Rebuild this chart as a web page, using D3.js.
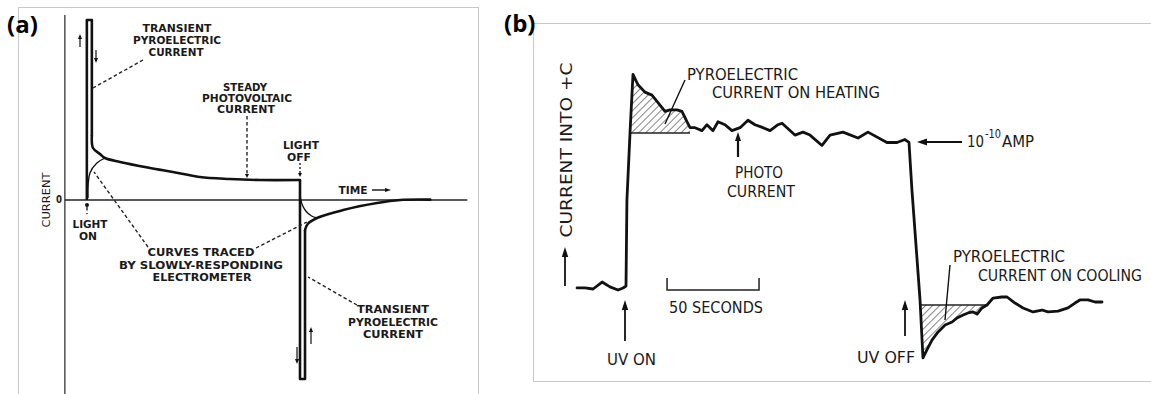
<!DOCTYPE html>
<html>
<head>
<meta charset="utf-8">
<script src="https://cdn.jsdelivr.net/npm/d3@7/dist/d3.min.js"></script>
<style>
  html, body { margin: 0; padding: 0; background: #fff; }
  svg { display: block; }
</style>
</head>
<body>
<script>
// ---- panel (a): idealised current after light on / off (arbitrary units) ----
// time in arbitrary units (light on = 0, light off = 55), current in steady-state units
const aTimeDomain = [-6, 98.4];
const aOnSpike  = [[-0.3, 0], [-0.3, 9.0], [1.0, 9.0], [1.0, 3.2]];
const aOnDecay  = [[1.0, 3.2], [1.3, 2.6], [3.1, 2.3], [4.4, 2.1], [8.3, 1.9], [16.1, 1.6],
                   [22, 1.4], [29, 1.15], [36.8, 1.05], [44.6, 1.0], [55, 1.0]];
const aOffSpike = [[55, 1.0], [55, -8.95], [56.3, -8.95], [56.3, -1.5]];
const aOffDecay = [[56.3, -1.5], [57, -1.2], [59.4, -0.9], [66.2, -0.5], [75, -0.15],
                   [81, 0], [88.8, 0.02]];
const aSlowOn   = [[0, 0.1], [0.5, 1.35], [2.3, 1.85], [4.4, 2.1]];
const aSlowOff  = [[55, 0.25], [55.5, -0.2], [56.5, -0.55], [58, -0.8], [59.4, -0.9]];

// ---- panel (b): measured trace, seconds vs current in 1e-10 A ----
const bTrace = [
  [-26.6, 0.007], [-22.3, 0.007], [-17.9, 0], [-13.0, 0.047], [-8.7, 0.014], [-4.3, -0.007],
  [-1.6, 0.007], [0, 0.02], [0.5, 0.6], [2.2, 1.06], [3.8, 1.45], [6.5, 1.38], [10.3, 1.33],
  [14.1, 1.31], [17.4, 1.26], [21.2, 1.2], [23.9, 1.21], [27.7, 1.21], [30.4, 1.2],
  [33.2, 1.13], [34.8, 1.09], [37.5, 1.09], [41.3, 1.07], [44.0, 1.11], [47.3, 1.07],
  [50.0, 1.13], [53.8, 1.11], [57.6, 1.07], [62.0, 1.09], [66.3, 1.14], [70.1, 1.11],
  [74.5, 1.09], [78.3, 1.07], [82.6, 1.11], [84.8, 1.12], [91.8, 1.04], [96.2, 1.06],
  [100.0, 1.04], [106.5, 0.97], [110.9, 1.04], [117.9, 1.06], [126.1, 1.02], [131.5, 1.06],
  [141.8, 0.99], [147.3, 0.99], [151.6, 1.01], [153.8, 0.99], [155.4, 0.67], [159.8, -0.074],
  [161.4, -0.466], [163.6, -0.41], [166.3, -0.345], [169.6, -0.29], [173.4, -0.243],
  [177.2, -0.223], [179.9, -0.196], [183.2, -0.176], [185.9, -0.162], [188.6, -0.155],
  [190.8, -0.169], [193.5, -0.128], [196.2, -0.108], [199.5, -0.061], [204.3, -0.054],
  [207.1, -0.054], [211.4, -0.095], [215.8, -0.128], [221.2, -0.155], [226.1, -0.142],
  [229.3, -0.155], [234.8, -0.149], [240.2, -0.128], [244.0, -0.095], [246.7, -0.074],
  [251.1, -0.074], [254.9, -0.088], [258.7, -0.088]
];
const bHeatLevel = 1.054;
const bHeatRange = [2.2, 34.8];
const bCoolLevel = -0.108;
const bCoolRange = [160.0, 196.2];
const bScaleBar = [22.3, 72.3]; // 50 seconds

const W = 1151, H = 394;
const svg = d3.select('body').append('svg').attr('width', W).attr('height', H);

const defs = svg.append('defs');
defs.append('pattern')
  .attr('id', 'hatch')
  .attr('patternUnits', 'userSpaceOnUse')
  .attr('width', 5).attr('height', 5)
  .attr('patternTransform', 'rotate(45)')
  .append('line')
  .attr('x1', 0).attr('y1', 0).attr('x2', 0).attr('y2', 5)
  .attr('stroke', '#222').attr('stroke-width', 1.1);

// panel frames
svg.append('rect').attr('x', 18.5).attr('y', 7.5).attr('width', 460).attr('height', 420)
  .attr('fill', 'none').attr('stroke', '#c8c8c8');
svg.append('rect').attr('x', 533.5).attr('y', 23.5).attr('width', 640).attr('height', 358)
  .attr('fill', 'none').attr('stroke', '#c8c8c8');

svg.append('text').attr('x', 7).attr('y', 33).text('(a)')
  .style('font-family', '"Open Sans", sans-serif').style('font-weight', 700).style('font-size', '24px');
svg.append('text').attr('x', 504).attr('y', 32).text('(b)')
  .style('font-family', '"Open Sans", sans-serif').style('font-weight', 700).style('font-size', '24px');

function arrow(g, x1, y1, x2, y2, hl, hw, sw, dash) {
  const a = Math.atan2(y2 - y1, x2 - x1);
  const bx = x2 - hl * Math.cos(a), by = y2 - hl * Math.sin(a);
  g.append('line').attr('x1', x1).attr('y1', y1).attr('x2', bx + Math.cos(a)).attr('y2', by + Math.sin(a))
    .attr('stroke', '#111').attr('stroke-width', sw)
    .attr('stroke-dasharray', dash || null);
  g.append('path')
    .attr('d', `M${x2},${y2}L${bx + hw * Math.sin(a)},${by - hw * Math.cos(a)}L${bx - hw * Math.sin(a)},${by + hw * Math.cos(a)}Z`)
    .attr('fill', '#111');
}

function label(g, d, font) {
  const t = g.append('text')
    .attr('x', d.x).attr('y', d.y)
    .attr('text-anchor', d.anchor || 'middle')
    .attr('textLength', d.w).attr('lengthAdjust', 'spacingAndGlyphs')
    .style('font-family', font.family)
    .style('font-weight', d.weight || font.weight)
    .style('font-size', (d.size || font.size) + 'px')
    .style('fill', '#1a1a1a')
    .text(d.t);
  if (d.rotate) t.attr('transform', `rotate(${d.rotate},${d.x},${d.y})`);
  return t;
}

// ================= panel (a) =================
const gA = svg.append('g');
const xA = d3.scaleLinear().domain([0, 55]).range([88, 300]);
const yA = d3.scaleLinear().domain([0, 1]).range([200, 180]);

// current axis and zero line
gA.append('line').attr('x1', xA(aTimeDomain[0])).attr('x2', xA(aTimeDomain[0]))
  .attr('y1', yA(9.25)).attr('y2', H).attr('stroke', '#333').attr('stroke-width', 1.3);
gA.append('line').attr('x1', xA(aTimeDomain[0])).attr('x2', xA(aTimeDomain[1]))
  .attr('y1', yA(0)).attr('y2', yA(0)).attr('stroke', '#222').attr('stroke-width', 1.6);

const lineA = d3.line().x(d => xA(d[0])).y(d => yA(d[1]));
const smoothA = d3.line().x(d => xA(d[0])).y(d => yA(d[1])).curve(d3.curveCatmullRom.alpha(0.5));

[aOnSpike, aOffSpike].forEach(s => gA.append('path').attr('d', lineA(s))
  .attr('fill', 'none').attr('stroke', '#111').attr('stroke-width', 2.6).attr('stroke-linejoin', 'round'));
[aOnDecay, aOffDecay].forEach(s => gA.append('path').attr('d', smoothA(s))
  .attr('fill', 'none').attr('stroke', '#111').attr('stroke-width', 2.6).attr('stroke-linecap', 'round'));
[aSlowOn, aSlowOff].forEach(s => gA.append('path').attr('d', smoothA(s))
  .attr('fill', 'none').attr('stroke', '#111').attr('stroke-width', 1.3));

// annotations (a)
const fontA = { family: '"Liberation Sans Narrow", "DejaVu Sans Condensed", sans-serif', weight: 700, size: 11 };
const labelsA = [
  { t: 'TRANSIENT', x: 177, y: 32, w: 69 },
  { t: 'PYROELECTRIC', x: 177, y: 44, w: 88 },
  { t: 'CURRENT', x: 176, y: 56, w: 55 },
  { t: 'STEADY', x: 245, y: 91, w: 44 },
  { t: 'PHOTOVOLTAIC', x: 247, y: 102, w: 90 },
  { t: 'CURRENT', x: 246, y: 113, w: 58 },
  { t: 'LIGHT', x: 301, y: 149, w: 36 },
  { t: 'OFF', x: 299, y: 161, w: 24 },
  { t: 'TIME', x: 353, y: 194, w: 29 },
  { t: 'LIGHT', x: 90, y: 228, w: 35 },
  { t: 'ON', x: 88, y: 240, w: 18 },
  { t: 'CURVES   TRACED', x: 201, y: 256, w: 107 },
  { t: 'BY  SLOWLY-RESPONDING', x: 201, y: 269, w: 164 },
  { t: 'ELECTROMETER', x: 202, y: 281, w: 99 },
  { t: 'TRANSIENT', x: 393, y: 313, w: 72 },
  { t: 'PYROELECTRIC', x: 393, y: 326, w: 90 },
  { t: 'CURRENT', x: 393, y: 338, w: 60 },
  { t: 'CURRENT', x: 50, y: 200, w: 55, rotate: -90, weight: 400 },
  { t: '0', x: 59, y: 203, w: 6, size: 10 }
];
labelsA.forEach(d => label(gA, d, fontA));

const dashA = [
  [[143, 60], [93, 88]],
  [[87, 207], [87, 214]],
  [[148, 247], [94, 172]],
  [[256, 248], [307, 222]],
  [[357, 305], [308, 277]]
];
dashA.forEach(p => gA.append('line')
  .attr('x1', p[0][0]).attr('y1', p[0][1]).attr('x2', p[1][0]).attr('y2', p[1][1])
  .attr('stroke', '#222').attr('stroke-width', 1.4).attr('stroke-dasharray', '3.5,2.5'));
arrow(gA, 247, 116, 247, 178, 4, 2, 1.3, '3.5,2.5');
arrow(gA, 300, 163, 300, 177, 4, 2, 1.3, '2,2');
gA.append('circle').attr('cx', 87).attr('cy', 205).attr('r', 2).attr('fill', '#111');

arrow(gA, 80, 47, 80, 34, 5, 2, 1.2);
arrow(gA, 96, 50, 96, 63, 5, 2, 1.2);
arrow(gA, 297, 347, 297, 364, 5, 2, 1.2);
arrow(gA, 311, 344, 311, 327, 5, 2, 1.2);
arrow(gA, 372, 190, 391, 190, 6, 2, 1.4);

// ================= panel (b) =================
const gB = svg.append('g');
const xB = d3.scaleLinear().domain([0, 50]).range([626, 718]);
const yB = d3.scaleLinear().domain([0, 1]).range([289, 141]);

const inRange = (r) => bTrace.filter(d => d[0] >= r[0] && d[0] <= r[1]);
const heatPts = inRange(bHeatRange);
const coolPts = [[bCoolRange[0], bCoolLevel]].concat(inRange(bCoolRange));

gB.append('path').datum(heatPts)
  .attr('d', d3.area().x(d => xB(d[0])).y0(yB(bHeatLevel)).y1(d => yB(d[1])))
  .attr('fill', 'url(#hatch)');
gB.append('path').datum(coolPts)
  .attr('d', d3.area().x(d => xB(d[0])).y0(yB(bCoolLevel)).y1(d => yB(d[1])))
  .attr('fill', 'url(#hatch)');

gB.append('line').attr('x1', xB(bHeatRange[0])).attr('x2', xB(bHeatRange[1]))
  .attr('y1', yB(bHeatLevel)).attr('y2', yB(bHeatLevel)).attr('stroke', '#222').attr('stroke-width', 1.3);
gB.append('line').attr('x1', xB(bCoolRange[0])).attr('x2', xB(bCoolRange[1]))
  .attr('y1', yB(bCoolLevel)).attr('y2', yB(bCoolLevel)).attr('stroke', '#222').attr('stroke-width', 1.3);

gB.append('path').datum(bTrace)
  .attr('d', d3.line().x(d => xB(d[0])).y(d => yB(d[1])))
  .attr('fill', 'none').attr('stroke', '#111').attr('stroke-width', 2.8)
  .attr('stroke-linejoin', 'round').attr('stroke-linecap', 'round');

// 50 second scale bar
const sbY = yB(0) + 1;
gB.append('path')
  .attr('d', `M${xB(bScaleBar[0])},${sbY - 12}V${sbY}H${xB(bScaleBar[1])}V${sbY - 12}`)
  .attr('fill', 'none').attr('stroke', '#222').attr('stroke-width', 1.5);

const fontB = { family: '"DejaVu Sans Condensed", "Liberation Sans Narrow", sans-serif', weight: 400, size: 16 };
const labelsB = [
  { t: 'PYROELECTRIC', x: 687, y: 80, w: 111, anchor: 'start' },
  { t: 'CURRENT ON HEATING', x: 712, y: 98, w: 168, anchor: 'start' },
  { t: 'PHOTO', x: 735, y: 178, w: 48, anchor: 'start' },
  { t: 'CURRENT', x: 727, y: 197, w: 68, anchor: 'start' },
  { t: '10', x: 967, y: 147, w: 17, anchor: 'start' },
  { t: '-10', x: 985, y: 138, w: 16, anchor: 'start', size: 12 },
  { t: 'AMP', x: 1002, y: 147, w: 32, anchor: 'start' },
  { t: '50 SECONDS', x: 669, y: 313, w: 94, anchor: 'start' },
  { t: 'UV  ON', x: 607, y: 365, w: 49, anchor: 'start' },
  { t: 'UV  OFF', x: 857, y: 363, w: 58, anchor: 'start' },
  { t: 'PYROELECTRIC', x: 953, y: 262, w: 112, anchor: 'start' },
  { t: 'CURRENT ON COOLING', x: 978, y: 281, w: 164, anchor: 'start' },
  { t: 'CURRENT  INTO  +C', x: 572, y: 150, w: 175, rotate: -90 }
];
labelsB.forEach(d => label(gB, d, fontB));

gB.append('line').attr('x1', 685).attr('y1', 80).attr('x2', 665).attr('y2', 124)
  .attr('stroke', '#111').attr('stroke-width', 1.4);
gB.append('line').attr('x1', 950).attr('y1', 265).attr('x2', 945).attr('y2', 320)
  .attr('stroke', '#111').attr('stroke-width', 1.4);

arrow(gB, 962, 142, 917, 142, 10, 3.5, 2.2);
arrow(gB, 738, 157, 738, 132, 9, 3, 2.2);
arrow(gB, 625, 341, 625, 300, 10, 3.2, 1.8);
arrow(gB, 905, 336, 905, 300, 10, 3.2, 1.8);
arrow(gB, 565, 286, 565, 247, 10, 3.2, 1.8);
</script>
</body>
</html>
